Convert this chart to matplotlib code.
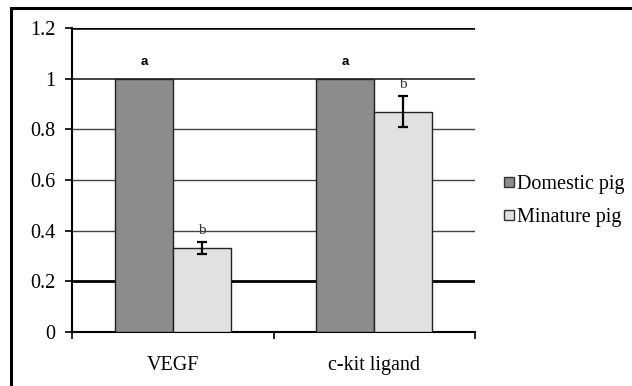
import numpy as np
import matplotlib
matplotlib.use("Agg")
from matplotlib import pyplot as plt
from matplotlib.patches import Rectangle
from matplotlib.lines import Line2D

# data
genes = ["VEGF", "c-kit ligand"]
series = ["Domestic pig", "Minature pig"]
domestic = [1.0, 1.0]
miniature = [0.33, 0.87]
miniature_err = [0.024, 0.06]
domestic_letters = ["a", "a"]
miniature_letters = ["b", "b"]
yticks = [0, 0.2, 0.4, 0.6, 0.8, 1.0, 1.2]
ytick_labels = ["0", "0.2", "0.4", "0.6", "0.8", "1", "1.2"]

colors = ["#8c8c8c", "#e1e1e1"]
serif = "Liberation Serif"

fig = plt.figure(figsize=(6.32, 3.86), dpi=100)
# outer frame of the chart area
fig.patches.append(Rectangle((11 / 632, -0.1), 1.2, (386 - 8) / 386 + 0.1,
                             transform=fig.transFigure, fill=False,
                             edgecolor="black", linewidth=2.2))

ax = fig.add_axes([72 / 632, (386 - 332) / 386, 403 / 632, 304 / 386])

x = np.arange(len(genes)) + 0.5
w = 0.287
ax.bar(x - w / 2, domestic, w, color=colors[0], edgecolor="#222222", linewidth=1, zorder=3)
ax.bar(x + w / 2, miniature, w, color=colors[1], edgecolor="#222222", linewidth=1, zorder=3)
ax.errorbar(x + w / 2, miniature, yerr=miniature_err, fmt="none", ecolor="black",
            elinewidth=1.6, capsize=3.5, capthick=1.6, zorder=4)

for i in range(len(genes)):
    ax.text(x[i] - w / 2, domestic[i] + 0.065, domestic_letters[i], ha="center", va="center",
            fontsize=9.5, fontweight="bold", family="Liberation Sans")
    ax.text(x[i] + w / 2, miniature[i] + miniature_err[i] + 0.045, miniature_letters[i],
            ha="center", va="center", fontsize=11, family=serif, color="#333333")

ax.set_xlim(0, len(genes))
ax.set_ylim(0, 1.2)
ax.set_yticks(yticks)
ax.set_yticklabels(ytick_labels, family=serif, fontsize=14.5)
ax.set_xticks(np.arange(len(genes) + 1))
ax.set_xticklabels([])
ax.set_xticks(x, minor=True)
ax.set_xticklabels(genes, minor=True, family=serif, fontsize=14.5)
ax.tick_params(axis="x", which="minor", length=0, pad=17)
ax.tick_params(axis="x", which="major", direction="out", length=5, width=1.2)
ax.tick_params(axis="y", direction="out", length=5, width=1.2, pad=7)

ax.yaxis.grid(True, color="#444444", linewidth=1.0, zorder=0)
ax.set_axisbelow(True)
grid = ax.get_ygridlines()
grid[1].set_color("black")
grid[1].set_linewidth(2.0)
grid[-1].set_color("black")
grid[-1].set_linewidth(1.8)
grid[-2].set_linewidth(1.4)

for s in ["top", "right"]:
    ax.spines[s].set_visible(False)
ax.spines["left"].set_linewidth(1.5)
ax.spines["bottom"].set_linewidth(1.5)

handles = [Line2D([], [], marker="s", linestyle="none", markersize=7.5,
                  markerfacecolor=c, markeredgecolor="#333333", markeredgewidth=1)
           for c in colors]
fig.legend(handles, series, loc="center left", bbox_to_anchor=(499 / 632, 1 - 201 / 386),
           frameon=False, prop={"family": serif, "size": 14.5}, handletextpad=-0.1,
           handlelength=1.0, labelspacing=0.7, borderaxespad=0, borderpad=0)

fig.savefig("out.png", dpi=100)
